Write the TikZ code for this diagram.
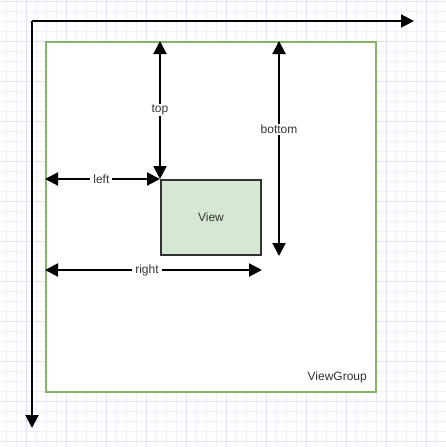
\documentclass[tikz,border=0pt]{standalone}
\usepackage{fontspec}
\setmainfont{Liberation Sans}
\usepackage{xcolor}
\definecolor{gridminor}{RGB}{238,238,252}
\definecolor{gridmajor}{RGB}{224,224,248}
\definecolor{groupline}{RGB}{130,179,102}
\definecolor{viewfill}{RGB}{213,232,212}
\definecolor{viewline}{RGB}{51,51,51}
\usetikzlibrary{arrows.meta}
\tikzset{
  axisline/.style={-{Triangle[length=13pt,width=13pt]},line width=2pt,black},
  measure/.style={{Triangle[length=13pt,width=13pt]}-{Triangle[length=13pt,width=13pt]},
                  line width=2pt,black},
  tag/.style={fill=white,inner xsep=3pt,inner ysep=1pt,
              font=\fontsize{12}{13}\selectfont,text=black!80},
}

\begin{document}
\begin{tikzpicture}[x=1pt,y=-1pt,
      group/.style={rectangle,draw=groupline,line width=2pt,fill=white,
                    minimum width=330pt,minimum height=350pt,inner sep=0pt},
      viewbox/.style={rectangle,draw=viewline,line width=2pt,fill=viewfill,
                      minimum width=100pt,minimum height=75pt,inner sep=0pt,
                      font=\fontsize{12}{13}\selectfont,text=black!80},
    ]
    \useasboundingbox (0,0) rectangle (446,447);

    % grid
    \foreach \i in {0,...,44}
      \draw[gridminor,line width=1pt] (6+10*\i,0) -- (6+10*\i,447);
    \foreach \i in {0,...,44}
      \draw[gridminor,line width=1pt] (0,1.7+10*\i) -- (446,1.7+10*\i);
    \foreach \i in {0,...,10}
      \draw[gridmajor,line width=1pt] (26+40*\i,0) -- (26+40*\i,447);
    \foreach \i in {0,...,11}
      \draw[gridmajor,line width=1pt] (0,1.7+40*\i) -- (446,1.7+40*\i);

    \node[group] (group) at (211,217) {};
    \node[viewbox] (view) at (211,217.5) {View};
    \node[tag,fill=none,anchor=east] (grouplabel) at (370,377) {ViewGroup};

    % axes
    \coordinate (origin) at (32,21);
    \coordinate (xend) at (414,21);
    \coordinate (yend) at (32,428);
    \draw[axisline] (origin) -- (xend);
    \draw[axisline] (origin) -- (yend);

    % margins
    \draw[measure] (view.north west |- group.north) -- (view.north west)
      node[tag,pos=0.5] {top};
    \draw[measure] (group.west |- view.north west) -- (view.north west)
      node[tag,pos=0.49] {left};
    \draw[measure] (group.north -| 279,0) -- (279,0 |- view.south)
      node[tag,pos=0.41] {bottom};
    \draw[measure] (group.west |- 0,270) -- (view.east |- 0,270)
      node[tag,pos=0.47] {right};

  \end{tikzpicture}
\end{document}
